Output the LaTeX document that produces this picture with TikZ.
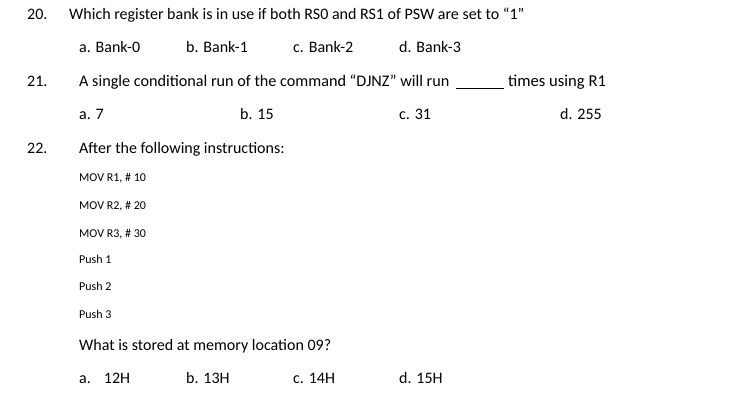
\documentclass[tikz,border=0pt]{standalone}
\usepackage{fontspec}
\setmainfont{Carlito}
\usepackage{tikz}

\tikzset{
  qnum/.style={anchor=base west, inner sep=0pt, font=\fontsize{16}{19}\selectfont},
  qtext/.style={anchor=base west, inner sep=0pt, font=\fontsize{16}{19}\selectfont},
  code/.style={anchor=base west, inner sep=0pt, font=\fontsize{12}{14}\selectfont}
}

\begin{document}
\begin{tikzpicture}[x=1pt, y=-1pt]

\useasboundingbox (0,0) rectangle (746,413);

% question 20
\node [qnum] (n20) at (27,19) {20.};
\node [qtext] (q20) at (69,19) {Which register bank is in use if both RS0 and RS1 of PSW are set to “1”};
\foreach \x/\t [count=\i] in {79/a. Bank-0, 186/b. Bank-1, 293/c. Bank-2, 399/d. Bank-3} {
  \node [qtext] (a20\i) at (\x,52) {\t};
}

% question 21
\node [qnum] (n21) at (27,86) {21.};
\node [qtext, font=\fontsize{16.2}{19}\selectfont] (q21) at (79,86) {A single conditional run of the command “DJNZ” will run};
\node [qtext, font=\fontsize{16.6}{19}\selectfont] (q21t) at (508,86) {times using R1};
\coordinate (blankl) at (456,88);
\coordinate (blankr) at (504,88);
\draw [line width=0.7pt] (blankl) -- (blankr);
\foreach \x/\t [count=\i] in {79/a. 7, 240/b. 15, 399/c. 31, 560/d. 255} {
  \node [qtext] (a21\i) at (\x,119) {\t};
}

% question 22
\node [qnum] (n22) at (27,153) {22.};
\node [qtext] (q22) at (79,153) {After the following instructions:};
\foreach \y/\t [count=\i] in {181/{MOV R1, \# 10}, 209/{MOV R2, \# 20}, 237/{MOV R3, \# 30},
                               263/Push 1, 290/Push 2, 318/Push 3} {
  \node [code] (c\i) at (79,\y) {\t};
}
\node [qtext] (q22b) at (79,350) {What is stored at memory location 09?};
\foreach \x/\t [count=\i] in {79/a.\hspace{13pt}12H, 186/b. 13H, 293/c. 14H, 399/d. 15H} {
  \node [qtext] (a22\i) at (\x,383) {\t};
}

\end{tikzpicture}
\end{document}
